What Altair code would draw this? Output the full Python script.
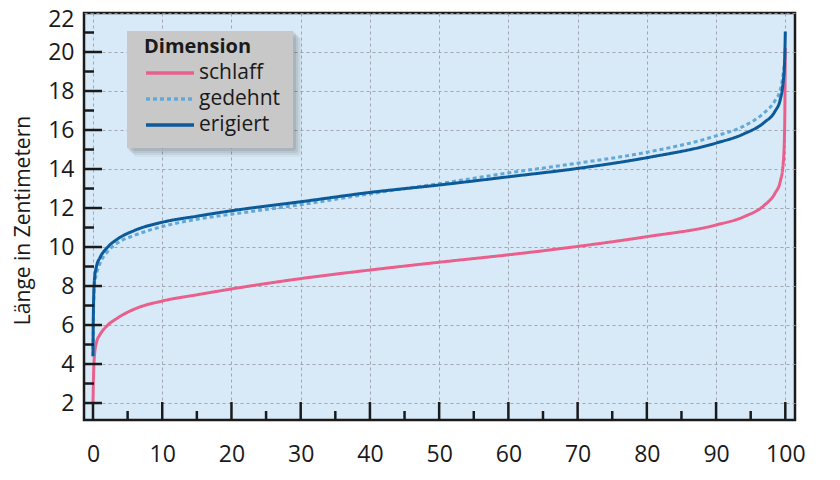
import altair as alt
import pandas as pd

# percentile (x) and length in cm (y)
perc = [0, 0.05, 0.2, 0.5, 1, 2, 3.5, 6, 10, 15, 20, 30, 40, 50, 60, 70, 80, 90, 94, 97, 98.5, 99.3, 99.7, 99.9, 100]
schlaff = [2.0, 3.0, 4.4, 5.1, 5.5, 5.95, 6.35, 6.82, 7.23, 7.55, 7.85, 8.38, 8.82, 9.22, 9.6, 10.03, 10.53, 11.13,
           11.55, 12.15, 12.75, 13.4, 14.3, 16.0, 20.2]
gedehnt = [4.4, 6.0, 8.0, 8.6, 9.15, 9.72, 10.2, 10.6, 11.05, 11.42, 11.68, 12.17, 12.73, 13.25, 13.8, 14.3, 14.86,
           15.7, 16.2, 16.9, 17.5, 18.1, 18.9, 19.6, 20.1]
erigiert = [4.4, 6.5, 8.3, 9.0, 9.45, 9.95, 10.4, 10.85, 11.27, 11.58, 11.86, 12.32, 12.8, 13.18, 13.6, 14.03, 14.58,
            15.33, 15.8, 16.4, 16.95, 17.6, 18.5, 19.5, 21.05]

dims = ["schlaff", "gedehnt", "erigiert"]
colors = ["#E9608C", "#62A9D9", "#0B5A9A"]

x_ticks = [0, 10, 20, 30, 40, 50, 60, 70, 80, 90, 100]
x_minor = [5, 15, 25, 35, 45, 55, 65, 75, 85, 95]
y_ticks = [2, 4, 6, 8, 10, 12, 14, 16, 18, 20, 22]
y_minor = [3, 5, 7, 9, 11, 13, 15, 17, 19, 21]

W, H = 711, 407
FONT = "Open Sans"
INK = "#1a1a1a"

rows = []
for name, vals in zip(dims, [schlaff, gedehnt, erigiert]):
    for p, v in zip(perc, vals):
        rows.append({"p": p, "v": v, "Dimension": name})
df = pd.DataFrame(rows)
df["order"] = df["Dimension"].map({"schlaff": 0, "erigiert": 1, "gedehnt": 2})

xs = alt.Scale(domain=[-1.3, 101.4], nice=False, zero=False)
ys = alt.Scale(domain=[1.13, 22], nice=False, zero=False)

x_axis = alt.Axis(values=x_ticks, grid=True, ticks=False, domain=False,
                  labelPadding=23, labelFontSize=23)
y_axis = alt.Axis(values=y_ticks, grid=True, ticks=False, domain=False,
                  labelPadding=10, labelFontSize=23, titleFontSize=21,
                  # nudge the top label down so it stays inside the page
                  labelOffset={"condition": {"test": "datum.value == 22", "value": 6}, "value": 0},
                  titleFontWeight="normal", titleX=-51, titleY=207,
                  titleBaseline="bottom")
y_title = "Länge in Zentimetern"

legend = alt.Legend(
    title="Dimension", orient="none", legendX=54, legendY=18,
    padding=6, titleFontSize=20, titleFontWeight="bold",
    titleColor=INK, labelFontSize=21, labelColor=INK,
    symbolType="M-1,0H3", symbolSize=576, symbolStrokeWidth=3.5,
    rowPadding=2, titlePadding=2, labelOffset=27,
)

lines = alt.Chart(df).mark_line(strokeWidth=3, interpolate="monotone").encode(
    x=alt.X("p:Q", scale=xs, title=None, axis=x_axis),
    y=alt.Y("v:Q", scale=ys, title=y_title, axis=y_axis),
    color=alt.Color("Dimension:N", scale=alt.Scale(domain=dims, range=colors), legend=legend),
    strokeDash=alt.StrokeDash("Dimension:N",
                              scale=alt.Scale(domain=dims, range=[[1, 0], [4, 3], [1, 0]]),
                              legend=legend),
    detail="Dimension:N",
    order="order:Q",
)


def xtick(vals, length):
    return alt.Chart(pd.DataFrame({"t": vals})).mark_rule(color=INK, strokeWidth=2.5).encode(
        x=alt.X("t:Q", scale=xs, title=None, axis=x_axis),
        y=alt.value(H), y2=alt.value(H - length))


def ytick(vals, length):
    return alt.Chart(pd.DataFrame({"t": vals})).mark_rule(color=INK, strokeWidth=2.5).encode(
        y=alt.Y("t:Q", scale=ys, title=y_title, axis=y_axis),
        x=alt.value(0), x2=alt.value(length))


# grey legend panel with a soft drop shadow (decoration behind the legend)
one = pd.DataFrame({"a": [0]})
box = [43, 209, 18, 135]
panel = []
for off, op in [(9, 0.05), (7, 0.08), (5, 0.1), (3, 0.12)]:
    panel.append(alt.Chart(one).mark_rect(color="#444", opacity=op, cornerRadius=3).encode(
        x=alt.value(box[0] + off - 2), x2=alt.value(box[1] + off),
        y=alt.value(box[2] + off - 2), y2=alt.value(box[3] + off)))
panel.append(alt.Chart(one).mark_rect(color="#C8C8C8").encode(
    x=alt.value(box[0]), x2=alt.value(box[1]), y=alt.value(box[2]), y2=alt.value(box[3])))

chart = alt.layer(
    *panel, lines, xtick(x_ticks, 18), xtick(x_minor, 9), ytick(y_ticks[:-1], 18), ytick(y_minor, 10)
).properties(
    width=W, height=H,
    autosize=alt.AutoSizeParams(type="none"),
    padding={"left": 76, "top": 5, "right": 20, "bottom": 50},
).configure_view(
    fill="#D8EAF7", stroke=INK, strokeWidth=2.5,
).configure_axis(
    gridColor="#9AA0A8", gridDash=[3, 3], gridWidth=1, gridOpacity=0.9,
    labelFont=FONT, titleFont=FONT, labelColor=INK, titleColor=INK,
).configure_legend(
    labelFont=FONT, titleFont=FONT,
)

chart.save("out.html", embed_options={"renderer": "svg", "actions": False})
